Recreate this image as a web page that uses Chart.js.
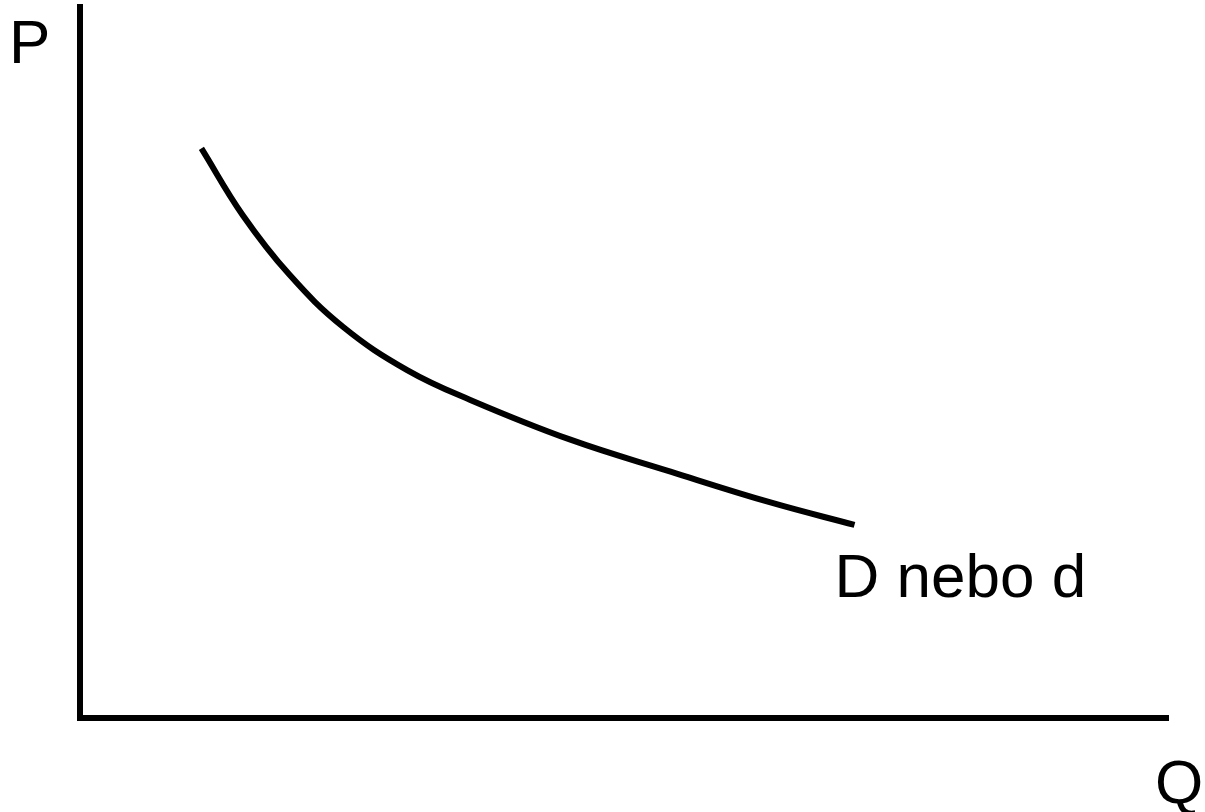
<!DOCTYPE html>
<html>
<head>
<meta charset="utf-8">
<script src="https://cdn.jsdelivr.net/npm/chart.js@4/dist/chart.umd.min.js"></script>
<style>
  html, body { margin: 0; padding: 0; background: #fff; }
  #wrap { width: 1205px; height: 812px; }
</style>
</head>
<body>
<div id="wrap"><canvas id="demandChart"></canvas></div>
<script>
    'use strict';

    // Demand curve (Q on x, P on y, both 0-100)
    var quantity = [11.2, 15.0, 19.3, 24.2, 30.1, 35.9, 45.1, 54.3, 63.4, 71.2];
    var price = [80.1, 70.7, 62.3, 55.0, 48.9, 44.7, 39.1, 34.6, 30.3, 27.1];

    var axisLabels = { y: 'P', x: 'Q', curve: 'D nebo d' };

    var points = quantity.map(function (q, i) {
        return { x: q, y: price[i] };
    });

    // ------------------------------------------------------- //
    // Axis letters and curve label
    // ------------------------------------------------------ //
    var labelPlugin = {
        id: 'labels',
        afterDraw: function (chart) {
            var ctx = chart.ctx;
            var area = chart.chartArea;
            ctx.save();
            ctx.fillStyle = '#000';
            ctx.font = '62px "Liberation Sans", Arial, sans-serif';
            ctx.textBaseline = 'alphabetic';
            ctx.textAlign = 'left';
            ctx.fillText(axisLabels.y, 9, 63);
            ctx.fillText(axisLabels.x, area.right - 13, 803);
            var last = points[points.length - 1];
            var px = chart.scales.x.getPixelForValue(last.x);
            ctx.fillText(axisLabels.curve, px - 20, 597);
            ctx.restore();
        }
    };

    var CHART = document.getElementById('demandChart');
    var demandChart = new Chart(CHART, {
        type: 'line',
        data: {
            datasets: [{
                label: axisLabels.curve,
                data: points,
                borderColor: '#000',
                borderWidth: 6,
                borderCapStyle: 'butt',
                tension: 0.4,
                pointRadius: 0,
                fill: false
            }]
        },
        options: {
            responsive: true,
            maintainAspectRatio: false,
            animation: false,
            layout: {
                padding: { left: 79.5, right: 37, top: 7, bottom: 94.5 }
            },
            plugins: {
                legend: { display: false },
                tooltip: { enabled: false }
            },
            scales: {
                x: {
                    type: 'linear',
                    min: 0,
                    max: 100,
                    ticks: { display: false },
                    grid: { display: false, drawTicks: false },
                    border: { display: true, color: '#000', width: 6 }
                },
                y: {
                    type: 'linear',
                    min: 0,
                    max: 100,
                    ticks: { display: false },
                    grid: { display: false, drawTicks: false },
                    border: { display: true, color: '#000', width: 6 }
                }
            }
        },
        plugins: [labelPlugin]
    });
</script>
</body>
</html>
